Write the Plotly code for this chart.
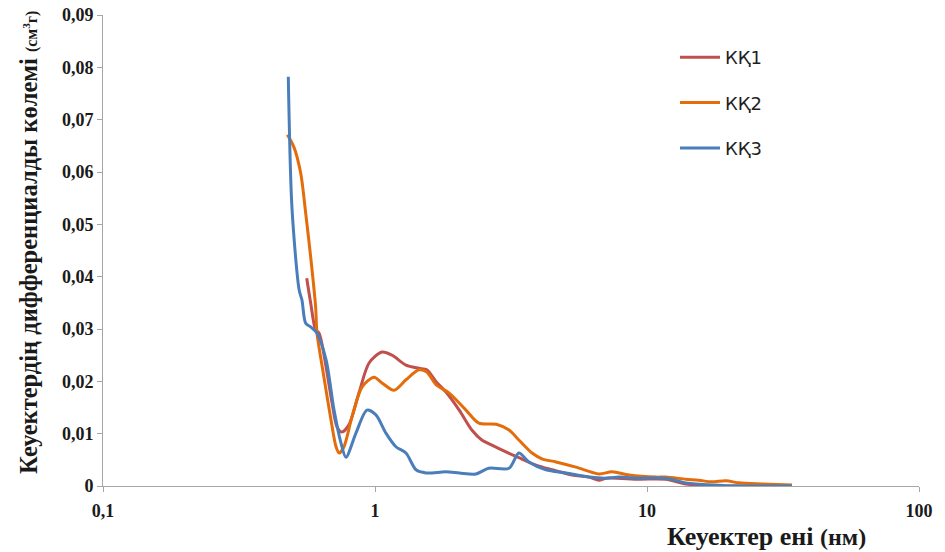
import plotly.graph_objects as go

# ---- data ----
kk1_x = [0.561, 0.580, 0.605, 0.623, 0.661, 0.695, 0.725, 0.756, 0.802, 0.873, 0.951, 1.061, 1.155,
         1.30, 1.45, 1.55, 1.68, 1.82, 2.04, 2.27, 2.47, 2.69, 3.03, 3.38, 3.91, 4.48, 5.30, 6.12,
         6.66, 7.07, 9.35, 11.7, 13.9, 17.3, 23.1, 34.1]
kk1_y = [0.0397, 0.0350, 0.0298, 0.0292, 0.0227, 0.0159, 0.0113, 0.0103, 0.0117, 0.0178, 0.0235,
         0.0256, 0.0250, 0.0231, 0.0225, 0.0222, 0.0199, 0.0180, 0.0145, 0.0107, 0.0088, 0.0078,
         0.0065, 0.0054, 0.0040, 0.0031, 0.0021, 0.0017, 0.0011, 0.0015, 0.0013, 0.0013, 0.0004,
         0.0, 0.0, 0.0]

kk2_x = [0.476, 0.503, 0.533, 0.556, 0.580, 0.605, 0.612, 0.649, 0.689, 0.719, 0.738, 0.769, 0.823,
         0.896, 0.992, 1.061, 1.175, 1.30, 1.45, 1.55, 1.68, 1.87, 2.16, 2.41, 2.79, 3.11, 3.38,
         3.78, 4.11, 4.63, 5.48, 6.66, 7.43, 8.59, 10.8, 11.7, 13.9, 15.5, 17.3, 19.5, 21.8, 26.5,
         34.1]
kk2_y = [0.0671, 0.0648, 0.0598, 0.0522, 0.0438, 0.0342, 0.0292, 0.0208, 0.0126, 0.0075, 0.0063,
         0.0075, 0.0132, 0.0189, 0.0208, 0.0197, 0.0183, 0.0203, 0.0222, 0.0218, 0.0193, 0.0178,
         0.0145, 0.0120, 0.0118, 0.0107, 0.0088, 0.0063, 0.0052, 0.0046, 0.0036, 0.0023, 0.0027,
         0.0021, 0.0017, 0.0017, 0.0013, 0.0011, 0.0008, 0.0010, 0.0006, 0.0004, 0.0002]

kk3_x = [0.480, 0.495, 0.526, 0.539, 0.556, 0.580, 0.612, 0.661, 0.707, 0.750, 0.782, 0.851, 0.934,
         1.008, 1.097, 1.194, 1.30, 1.415, 1.54, 1.82, 2.04, 2.35, 2.62, 3.11, 3.38, 3.68, 4.25,
         5.04, 6.12, 7.07, 7.89, 9.35, 11.7, 13.9, 17.3, 23.1, 34.1]
kk3_y = [0.0782, 0.0533, 0.0375, 0.0355, 0.0311, 0.0304, 0.0292, 0.0241, 0.0145, 0.0082, 0.0055,
         0.0101, 0.0145, 0.0136, 0.0101, 0.0075, 0.0063, 0.0031, 0.0025, 0.0027, 0.0025, 0.0023,
         0.0034, 0.0034, 0.0063, 0.0046, 0.0031, 0.0025, 0.0017, 0.0015, 0.0017, 0.0015, 0.0015,
         0.0006, 0.0002, 0.0, 0.0]

series_names = ["КҚ1", "КҚ2", "КҚ3"]
series_colors = ["#C0504D", "#E46C0A", "#4A7EBB"]

x_tickvals = [0.1, 1, 10, 100]
x_ticktext = ["0,1", "1", "10", "100"]
y_tickvals = [0, 0.01, 0.02, 0.03, 0.04, 0.05, 0.06, 0.07, 0.08, 0.09]
y_ticktext = ["0", "0,01", "0,02", "0,03", "0,04", "0,05", "0,06", "0,07", "0,08", "0,09"]

fig = go.Figure()
for i, (xs, ys) in enumerate([(kk1_x, kk1_y), (kk2_x, kk2_y), (kk3_x, kk3_y)]):
    fig.add_trace(go.Scatter(
        x=xs, y=ys, mode="lines", name=series_names[i], legendgroup=f"g{i}",
        line=dict(color=series_colors[i], width=3, shape="spline", smoothing=0.8),
    ))

serif = "Liberation Serif"
tickfont = dict(family=serif, size=18, color="#1A1A1A", weight="bold")
fig.update_layout(
    width=945, height=552,
    margin=dict(l=103, r=26, t=15, b=66, autoexpand=False),
    paper_bgcolor="white", plot_bgcolor="white",
    showlegend=True,
    legend=dict(x=0.701, y=0.949, xanchor="left", yanchor="top",
                font=dict(family="DejaVu Sans", size=18, color="#1F1F1F"),
                tracegroupgap=19, itemwidth=40, bgcolor="rgba(0,0,0,0)"),
    xaxis=dict(type="log", range=[-1, 2], tickvals=x_tickvals, ticktext=x_ticktext,
               automargin=False,
               showgrid=False, zeroline=False, showline=True, linecolor="#A6A6A6", linewidth=1,
               ticks="outside", ticklen=5, tickcolor="#A6A6A6", ticklabelstandoff=3,
               tickfont=tickfont),
    yaxis=dict(range=[0, 0.09], tickvals=y_tickvals, ticktext=y_ticktext,
               automargin=False,
               showgrid=False, zeroline=False, showline=True, linecolor="#A6A6A6", linewidth=1,
               ticks="outside", ticklen=5, tickcolor="#A6A6A6",
               tickfont=tickfont),
)

fig.add_annotation(
    xref="paper", yref="paper", x=-0.092, y=0.518, xanchor="center", yanchor="middle",
    textangle=-90, showarrow=False,
    text="<b>Кеуектердің дифференциалды көлемі <span style='font-size:16px'>(см<sup>3</sup>г)</span></b>",
    font=dict(family=serif, size=24.5, color="#1A1A1A"),
)
fig.add_annotation(
    xref="paper", yref="paper", x=0.8125, y=-0.108, xanchor="center", yanchor="middle",
    showarrow=False,
    text="<b>Кеуектер ені <span style='font-size:24px'>(нм)</span></b>",
    font=dict(family=serif, size=26, color="#1A1A1A"),
)

fig.write_html("out.html")
